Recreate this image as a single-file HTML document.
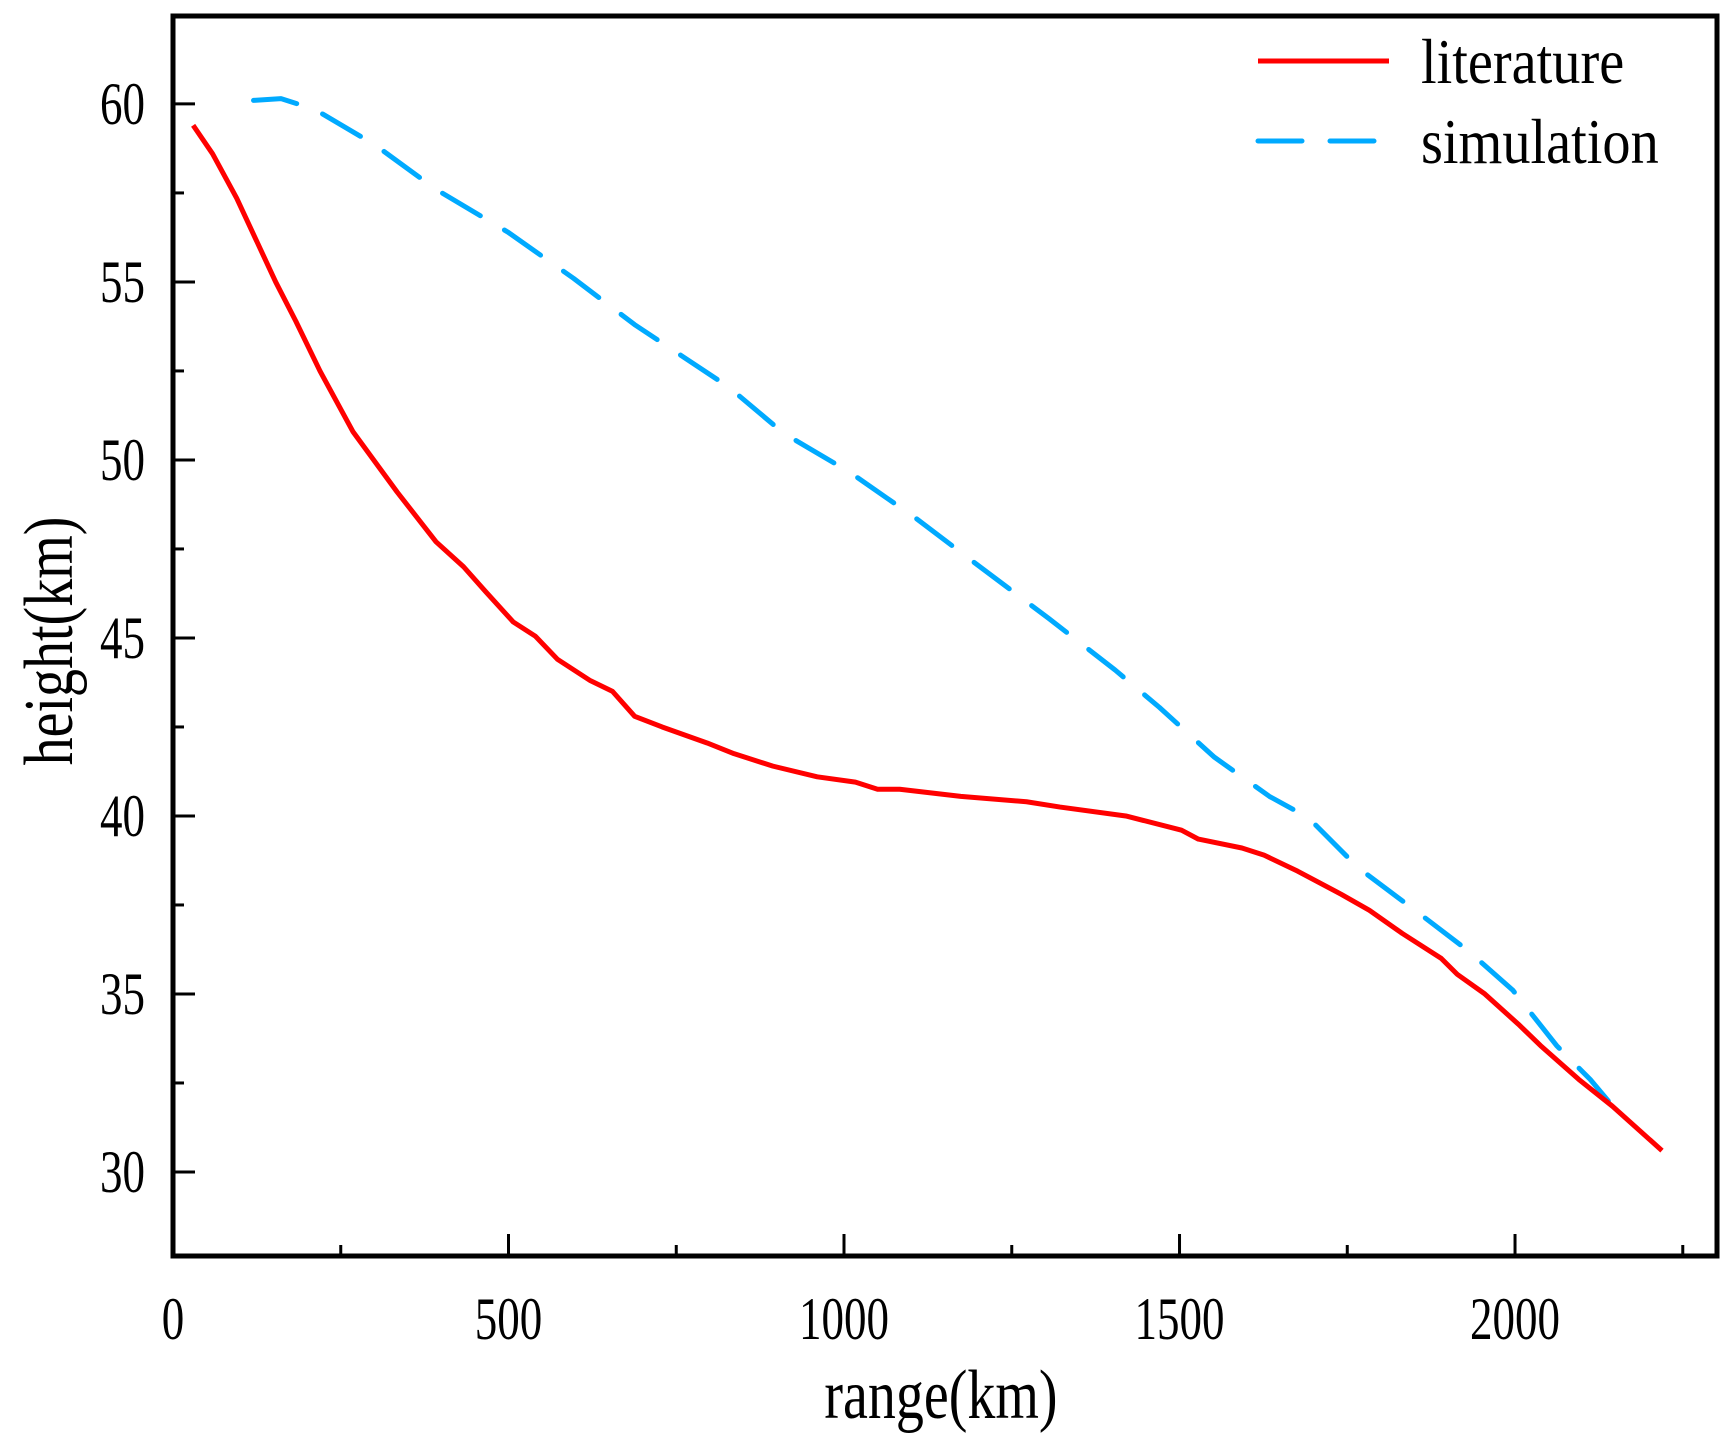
<!DOCTYPE html>
<html><head><meta charset="utf-8"><style>
html,body{margin:0;padding:0;background:#fff;}
svg text{font-family:"Liberation Serif",serif;fill:#000;}
</style></head>
<body>
<svg id="chart" width="1731" height="1447" viewBox="0 0 1731 1447" xmlns="http://www.w3.org/2000/svg">
<g id="axes"></g>
<g id="series"></g>
<g id="legend">
  <line x1="1258" y1="61" x2="1389" y2="61" stroke="#ff0000" stroke-width="5"/>
  <text transform="translate(1421,83) scale(0.88,1)" font-size="64">literature</text>
  <line x1="1258" y1="141" x2="1389" y2="141" stroke="#00aaff" stroke-width="5" stroke-dasharray="44,28" stroke-linecap="round"/>
  <text transform="translate(1421,163) scale(0.88,1)" font-size="64">simulation</text>
</g>
</svg>
<script>
const litRange=[30,59,95,153,183,219,268,334,392,433,466,507,540,573,622,655,688,729,796,836,894,960,1017,1050,1083,1174,1272,1322,1420,1503,1528,1593,1626,1676,1741,1783,1832,1890,1914,1955,2005,2038,2095,2145,2219];
const litHeight=[59.4,58.6,57.35,55.0,53.9,52.5,50.8,49.1,47.7,47.0,46.3,45.45,45.05,44.4,43.8,43.5,42.8,42.5,42.05,41.75,41.4,41.1,40.95,40.75,40.75,40.55,40.4,40.25,40.0,39.6,39.35,39.1,38.9,38.45,37.8,37.35,36.7,36.0,35.55,35.0,34.15,33.55,32.6,31.85,30.6];
const simRange=[120,161,211,301,392,499,597,688,828,910,1009,1108,1206,1305,1404,1470,1552,1634,1692,1766,1865,1931,1997,2062,2112,2161];
const simHeight=[60.1,60.15,59.85,58.85,57.6,56.4,55.1,53.8,52.05,50.75,49.65,48.35,46.95,45.55,44.1,43.05,41.65,40.55,39.95,38.55,37.15,36.2,35.1,33.55,32.6,31.5];
const xTicks=[0,500,1000,1500,2000];
const xMinorTicks=[250,750,1250,1750,2250];
const yTicks=[30,35,40,45,50,55,60];
const yMinorTicks=[32.5,37.5,42.5,47.5,52.5,57.5];

const L=173,R=1717,T=16,B=1256;
const xMin=0,xMax=2301,yMin=27.64,yMax=62.47;
const xs=v=>L+(v-xMin)/(xMax-xMin)*(R-L);
const ys=v=>B-(v-yMin)/(yMax-yMin)*(B-T);
const NS="http://www.w3.org/2000/svg";
const axes=document.getElementById('axes'),series=document.getElementById('series');
function mk(tag,attrs,parent){const e=document.createElementNS(NS,tag);for(const k in attrs)e.setAttribute(k,attrs[k]);parent.appendChild(e);return e;}

const frame=mk('rect',{x:L,y:T,width:R-L,height:B-T,fill:'none',stroke:'#000','stroke-width':5},axes);



xTicks.forEach(v=>{
  const t=mk('line',{x1:xs(v),x2:xs(v),y1:B,y2:B-22,stroke:'#000','stroke-width':3},axes);
  
  
  const l=mk('text',{transform:`translate(${xs(v)},${B+83}) scale(0.75,1)`,'font-size':60,'text-anchor':'middle'},axes);
  l.textContent=v;
  
  
});
xMinorTicks.forEach(v=>{
  const t=mk('line',{x1:xs(v),x2:xs(v),y1:B,y2:B-11,stroke:'#000','stroke-width':3},axes);
  
  
});
yTicks.forEach(v=>{
  const t=mk('line',{x1:L,x2:L+22,y1:ys(v),y2:ys(v),stroke:'#000','stroke-width':3},axes);
  
  
  const l=mk('text',{transform:`translate(${L-28},${ys(v)+20}) scale(0.75,1)`,'font-size':60,'text-anchor':'end'},axes);
  l.textContent=v;
  
  
});
yMinorTicks.forEach(v=>{
  const t=mk('line',{x1:L,x2:L+11,y1:ys(v),y2:ys(v),stroke:'#000','stroke-width':3},axes);
  
  
});
const xt=mk('text',{transform:`translate(${(L+R)/2-4},1418) scale(0.8,1)`,'font-size':70,'text-anchor':'middle'},axes);
xt.textContent='range(km)';


const yt=mk('text',{x:0,y:0,'font-size':70,'text-anchor':'middle',transform:`translate(72,${(T+B)/2+5}) rotate(-90) scale(0.8,1)`},axes);
yt.textContent='height(km)';



const simPath=mk('polyline',{points:simRange.map((r,i)=>xs(r)+','+ys(simHeight[i])).join(' '),fill:'none',stroke:'#00aaff','stroke-width':5,'stroke-dasharray':'44,28','stroke-linecap':'round','stroke-linejoin':'round'},series);


const litPath=mk('polyline',{points:litRange.map((r,i)=>xs(r)+','+ys(litHeight[i])).join(' '),fill:'none',stroke:'#ff0000','stroke-width':5,'stroke-linejoin':'round'},series);


</script>
</body></html>
